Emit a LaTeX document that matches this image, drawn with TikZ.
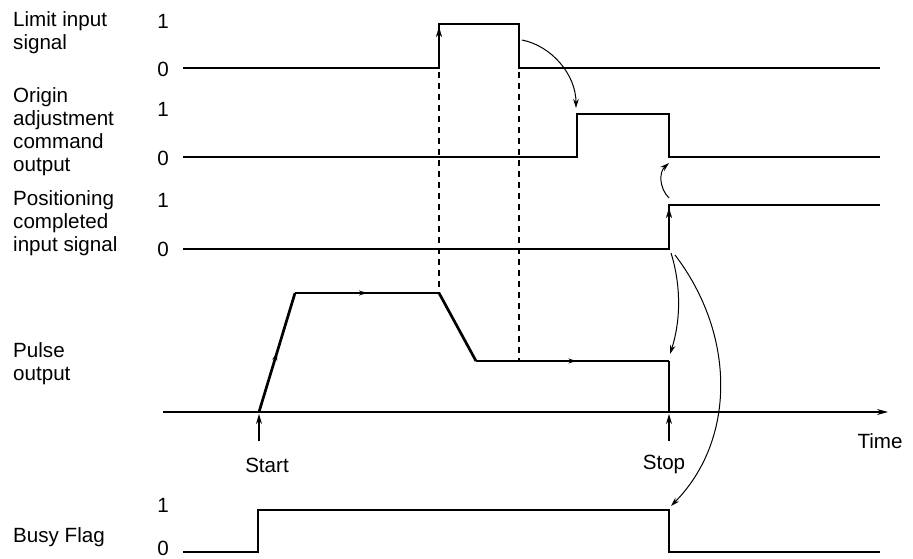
\documentclass[tikz,border=0pt]{standalone}
\usepackage{fontspec}
\setmainfont{Liberation Sans}
\usetikzlibrary{arrows.meta,decorations.markings}
\begin{document}
\begin{tikzpicture}[x=1pt,y=-1pt,
  sig/.style={line width=2.7pt,line join=miter},
  axisln/.style={line width=1.2pt},
  dashln/.style={line width=1.4pt,dash pattern=on 6pt off 5pt},
  curv/.style={line width=1pt,-{Stealth[length=9pt,width=5.5pt]}},
  tip/.style={-{Stealth[length=10pt,width=6pt]}},
  lbl/.style={font=\fontsize{20.6}{23}\selectfont,align=left,inner sep=0pt},
  lvl/.style={font=\fontsize{20.6}{23}\selectfont,inner sep=0pt},
  midarrow/.style={postaction={decorate},decoration={markings,
     mark=at position #1 with {\arrow{Stealth[length=8pt,width=5pt]}}}}
]
\useasboundingbox (0,0) rectangle (913,559);

% left labels
\node[lbl,anchor=west] (l1) at (13,33) {Limit input\\signal};
\node[lbl,anchor=west] (l2) at (13,132) {Origin\\adjustment\\command\\output};
\node[lbl,anchor=west] (l3) at (13,223) {Positioning\\completed\\input signal};
\node[lbl,anchor=west] (l4) at (13,364) {Pulse\\output};
\node[lbl,anchor=west] (l5) at (13,537) {Busy Flag};

% level labels
\node[lvl] (a1) at (163,21) {1};
\node[lvl] (a0) at (163,69) {0};
\node[lvl] (b1) at (163,109) {1};
\node[lvl] (b0) at (163,158) {0};
\node[lvl] (c1) at (163,200) {1};
\node[lvl] (c0) at (163,249) {0};
\node[lvl] (d1) at (163,505) {1};
\node[lvl] (d0) at (163,548) {0};

% Limit input signal
\draw[sig] (183,68) -- (439,68) -- (439,24) -- (519,24) -- (519,68) -- (880,68);
\coordinate (r1a) at (439,50);
\coordinate (r1b) at (439,27);
\draw[tip,line width=0.1pt] (r1a) -- (r1b);

% Origin adjustment command output
\draw[sig] (183,157) -- (577,157) -- (577,114) -- (669,114) -- (669,157) -- (880,157);

% Positioning completed input signal
\draw[sig] (183,249) -- (669,249) -- (669,205) -- (880,205);
\coordinate (r3a) at (669,230);
\coordinate (r3b) at (669,208);
\draw[tip,line width=0.1pt] (r3a) -- (r3b);

% time axis
\coordinate (ax0) at (163,412);
\coordinate (ax1) at (888,412);
\draw[axisln,-{Stealth[length=11pt,width=6pt]}] (ax0) -- (ax1);
\node[lvl] (time) at (880,441) {Time};

% pulse output
\coordinate (p0) at (259,412);
\coordinate (p1) at (295,293);
\coordinate (p2) at (439,293);
\coordinate (p3) at (476,361);
\coordinate (p4) at (669,361);
\coordinate (p5) at (669,412);
\draw[sig,midarrow=0.5] (p0) -- (p1);
\draw[sig,midarrow=0.5] (p1) -- (p2);
\draw[sig] (p2) -- (p3);
\draw[sig,midarrow=0.52] (p3) -- (p4);
\draw[sig] (p4) -- (p5);

% dashed guides
\draw[dashln] (439,72) -- (p2);
\draw[dashln] (519,72) -- (519,361);

% start / stop
\coordinate (s0) at (259,441);
\coordinate (s1) at (259,414);
\draw[line width=1.2pt,tip] (s0) -- (s1);
\node[lvl] (start) at (267,465) {Start};
\coordinate (t0) at (669,441);
\coordinate (t1) at (669,414);
\draw[line width=1.2pt,tip] (t0) -- (t1);
\node[lvl] (stop) at (664,464) {Stop};

% Busy flag
\draw[sig] (183,552) -- (258,552) -- (258,510) -- (669,510) -- (669,552) -- (880,552);

% curved arrows
\coordinate (c1s) at (522,40);
\coordinate (c1e) at (576,108);
\draw[curv] (c1s) .. controls (552,46) and (576,75) .. (c1e);
\coordinate (c2s) at (669,198);
\coordinate (c2e) at (669,163);
\draw[curv] (c2s) .. controls (659,188) and (659,172) .. (c2e);
\coordinate (c3s) at (671,253);
\coordinate (c3e) at (670,354);
\draw[curv] (c3s) .. controls (681,285) and (681,320) .. (c3e);
\coordinate (c4s) at (675,255);
\coordinate (c4e) at (671,506);
\draw[curv] (c4s) .. controls (736,335) and (736,440) .. (c4e);
\end{tikzpicture}
\end{document}
